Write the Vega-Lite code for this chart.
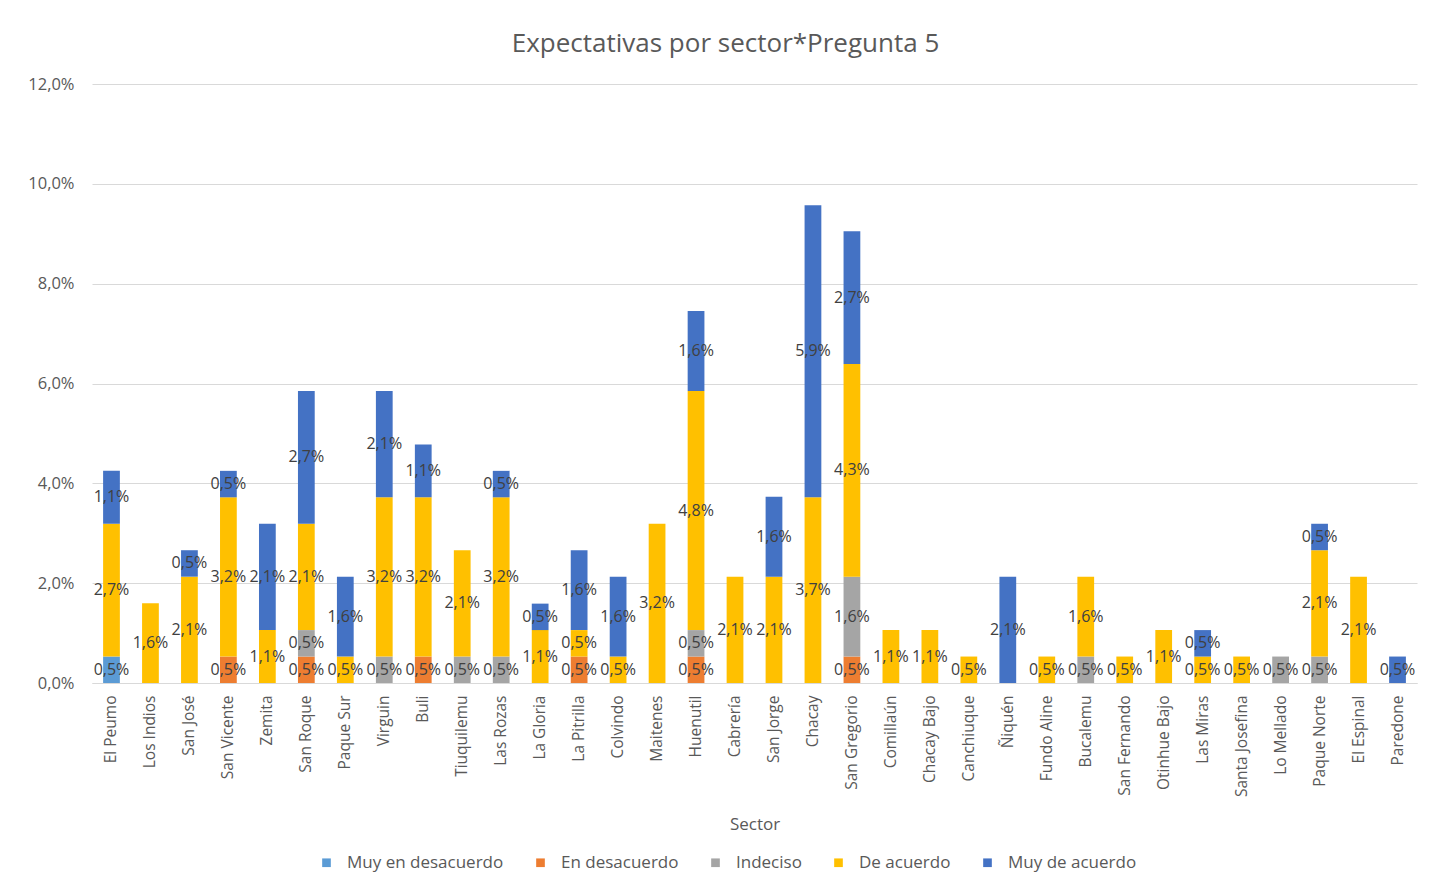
{
  "$schema": "https://vega.github.io/schema/vega-lite/v6.json",
  "width": 1325,
  "height": 599,
  "autosize": {"type": "none"},
  "padding": {"left": 92, "top": 84, "right": 12, "bottom": 201},
  "background": "white",
  "title": {"text": "Expectativas por sector*Pregunta 5", "fontSize": 26, "font": "Open Sans", "fontWeight": "normal", "color": "#595959", "offset": 19, "dx": -29},
  "data": {"values": [
    {"sector": "El Peumo", "resp": "Muy en desacuerdo", "v": 0.0053},
    {"sector": "El Peumo", "resp": "De acuerdo", "v": 0.0266},
    {"sector": "El Peumo", "resp": "Muy de acuerdo", "v": 0.0106},
    {"sector": "Los Indios", "resp": "De acuerdo", "v": 0.016},
    {"sector": "San José", "resp": "De acuerdo", "v": 0.0213},
    {"sector": "San José", "resp": "Muy de acuerdo", "v": 0.0053},
    {"sector": "San Vicente", "resp": "En desacuerdo", "v": 0.0053},
    {"sector": "San Vicente", "resp": "De acuerdo", "v": 0.0319},
    {"sector": "San Vicente", "resp": "Muy de acuerdo", "v": 0.0053},
    {"sector": "Zemita", "resp": "De acuerdo", "v": 0.0106},
    {"sector": "Zemita", "resp": "Muy de acuerdo", "v": 0.0213},
    {"sector": "San Roque", "resp": "En desacuerdo", "v": 0.0053},
    {"sector": "San Roque", "resp": "Indeciso", "v": 0.0053},
    {"sector": "San Roque", "resp": "De acuerdo", "v": 0.0213},
    {"sector": "San Roque", "resp": "Muy de acuerdo", "v": 0.0266},
    {"sector": "Paque Sur", "resp": "De acuerdo", "v": 0.0053},
    {"sector": "Paque Sur", "resp": "Muy de acuerdo", "v": 0.016},
    {"sector": "Virguin", "resp": "Indeciso", "v": 0.0053},
    {"sector": "Virguin", "resp": "De acuerdo", "v": 0.0319},
    {"sector": "Virguin", "resp": "Muy de acuerdo", "v": 0.0213},
    {"sector": "Buli", "resp": "En desacuerdo", "v": 0.0053},
    {"sector": "Buli", "resp": "De acuerdo", "v": 0.0319},
    {"sector": "Buli", "resp": "Muy de acuerdo", "v": 0.0106},
    {"sector": "Tiuquilemu", "resp": "Indeciso", "v": 0.0053},
    {"sector": "Tiuquilemu", "resp": "De acuerdo", "v": 0.0213},
    {"sector": "Las Rozas", "resp": "Indeciso", "v": 0.0053},
    {"sector": "Las Rozas", "resp": "De acuerdo", "v": 0.0319},
    {"sector": "Las Rozas", "resp": "Muy de acuerdo", "v": 0.0053},
    {"sector": "La Gloria", "resp": "De acuerdo", "v": 0.0106},
    {"sector": "La Gloria", "resp": "Muy de acuerdo", "v": 0.0053},
    {"sector": "La Pitrilla", "resp": "En desacuerdo", "v": 0.0053},
    {"sector": "La Pitrilla", "resp": "De acuerdo", "v": 0.0053},
    {"sector": "La Pitrilla", "resp": "Muy de acuerdo", "v": 0.016},
    {"sector": "Colvindo", "resp": "De acuerdo", "v": 0.0053},
    {"sector": "Colvindo", "resp": "Muy de acuerdo", "v": 0.016},
    {"sector": "Maitenes", "resp": "De acuerdo", "v": 0.0319},
    {"sector": "Huenutil", "resp": "En desacuerdo", "v": 0.0053},
    {"sector": "Huenutil", "resp": "Indeciso", "v": 0.0053},
    {"sector": "Huenutil", "resp": "De acuerdo", "v": 0.0479},
    {"sector": "Huenutil", "resp": "Muy de acuerdo", "v": 0.016},
    {"sector": "Cabrería", "resp": "De acuerdo", "v": 0.0213},
    {"sector": "San Jorge", "resp": "De acuerdo", "v": 0.0213},
    {"sector": "San Jorge", "resp": "Muy de acuerdo", "v": 0.016},
    {"sector": "Chacay", "resp": "De acuerdo", "v": 0.0372},
    {"sector": "Chacay", "resp": "Muy de acuerdo", "v": 0.0585},
    {"sector": "San Gregorio", "resp": "En desacuerdo", "v": 0.0053},
    {"sector": "San Gregorio", "resp": "Indeciso", "v": 0.016},
    {"sector": "San Gregorio", "resp": "De acuerdo", "v": 0.0426},
    {"sector": "San Gregorio", "resp": "Muy de acuerdo", "v": 0.0266},
    {"sector": "Comillaún", "resp": "De acuerdo", "v": 0.0106},
    {"sector": "Chacay Bajo", "resp": "De acuerdo", "v": 0.0106},
    {"sector": "Canchiuque", "resp": "De acuerdo", "v": 0.0053},
    {"sector": "Ñiquén", "resp": "Muy de acuerdo", "v": 0.0213},
    {"sector": "Fundo Aline", "resp": "De acuerdo", "v": 0.0053},
    {"sector": "Bucalemu", "resp": "Indeciso", "v": 0.0053},
    {"sector": "Bucalemu", "resp": "De acuerdo", "v": 0.016},
    {"sector": "San Fernando", "resp": "De acuerdo", "v": 0.0053},
    {"sector": "Otinhue Bajo", "resp": "De acuerdo", "v": 0.0106},
    {"sector": "Las Miras", "resp": "De acuerdo", "v": 0.0053},
    {"sector": "Las Miras", "resp": "Muy de acuerdo", "v": 0.0053},
    {"sector": "Santa Josefina", "resp": "De acuerdo", "v": 0.0053},
    {"sector": "Lo Mellado", "resp": "Indeciso", "v": 0.0053},
    {"sector": "Paque Norte", "resp": "Indeciso", "v": 0.0053},
    {"sector": "Paque Norte", "resp": "De acuerdo", "v": 0.0213},
    {"sector": "Paque Norte", "resp": "Muy de acuerdo", "v": 0.0053},
    {"sector": "El Espinal", "resp": "De acuerdo", "v": 0.0213},
    {"sector": "Paredone", "resp": "Muy de acuerdo", "v": 0.0053}
  ]},
  "transform": [
    {"calculate": "indexof(['Muy en desacuerdo','En desacuerdo','Indeciso','De acuerdo','Muy de acuerdo'], datum.resp)", "as": "o"},
    {"stack": "v", "groupby": ["sector"], "sort": [{"field": "o", "order": "ascending"}], "as": ["y0", "y1"]},
    {"calculate": "(datum.y0 + datum.y1) / 2", "as": "mid"}
  ],
  "encoding": {
    "x": {
      "field": "sector", "type": "nominal", "title": "Sector",
      "sort": ["El Peumo","Los Indios","San José","San Vicente","Zemita","San Roque","Paque Sur","Virguin","Buli","Tiuquilemu","Las Rozas","La Gloria","La Pitrilla","Colvindo","Maitenes","Huenutil","Cabrería","San Jorge","Chacay","San Gregorio","Comillaún","Chacay Bajo","Canchiuque","Ñiquén","Fundo Aline","Bucalemu","San Fernando","Otinhue Bajo","Las Miras","Santa Josefina","Lo Mellado","Paque Norte","El Espinal","Paredone"],
      "scale": {"paddingInner": 0.57, "paddingOuter": 0.285},
      "axis": {"labelAngle": -90, "labelAlign": "right", "labelBaseline": "middle", "labelFontSize": 15.5, "labelColor": "#595959", "labelFont": "Open Sans", "labelPadding": 12, "ticks": false, "domainColor": "#d9d9d9", "titleFontSize": 17, "titleColor": "#595959", "titleFont": "Open Sans", "titleFontWeight": "normal", "titleY": 141, "titleBaseline": "middle"}
    }
  },
  "layer": [
    {
      "mark": {"type": "bar"},
      "encoding": {
        "y": {"field": "y0", "type": "quantitative", "title": null,
          "scale": {"domain": [0, 0.12]},
          "axis": {"values": [0, 0.02, 0.04, 0.06, 0.08, 0.1, 0.12], "format": ".1%", "domain": false, "ticks": false, "labelFontSize": 16.5, "labelColor": "#595959", "labelFont": "Open Sans", "labelPadding": 18, "gridColor": "#d9d9d9"}},
        "y2": {"field": "y1"},
        "color": {
          "field": "resp", "type": "nominal", "title": null,
          "scale": {"domain": ["Muy en desacuerdo","En desacuerdo","Indeciso","De acuerdo","Muy de acuerdo"], "range": ["#5B9BD5","#ED7D31","#A5A5A5","#FFC000","#4472C4"]},
          "legend": {"orient": "none", "legendX": 226, "legendY": 770, "direction": "horizontal", "symbolType": "square", "symbolSize": 75, "symbolStrokeWidth": 0, "labelFontSize": 17, "labelColor": "#595959", "labelFont": "Open Sans", "labelOffset": 12, "columnPadding": 28}
        }
      }
    },
    {
      "mark": {"type": "text", "fontSize": 16, "font": "Open Sans", "color": "#404040"},
      "encoding": {
        "y": {"field": "mid", "type": "quantitative"},
        "text": {"field": "v", "type": "quantitative", "format": ".1%"}
      }
    }
  ],
  "config": {
    "locale": {"number": {"decimal": ",", "thousands": ".", "grouping": [3], "currency": ["", " €"]}},
    "view": {"stroke": null}
  }
}
